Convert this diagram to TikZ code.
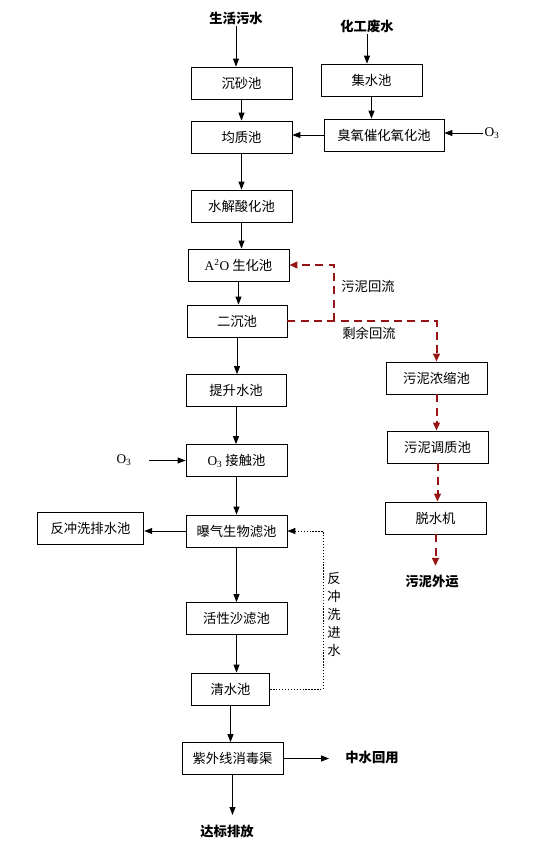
\documentclass[tikz,border=0pt]{standalone}
\usepackage{fontspec}
\setmainfont{Liberation Serif}
\newfontfamily\cjk{Noto Sans CJK SC}
\usetikzlibrary{arrows.meta}
\definecolor{sludgered}{RGB}{150,20,20}

\begin{document}
\begin{tikzpicture}[x=.75pt, y=-.75pt,
		box/.style={draw, line width=.6pt, minimum width=75.75pt, minimum height=24pt, inner sep=0pt, font=\cjk\fontsize{10}{12}\selectfont},
		lbl/.style={inner sep=1pt, font=\cjk\bfseries\fontsize{10}{12}\selectfont},
		txt/.style={inner sep=1pt, font=\cjk\fontsize{10}{12}\selectfont},
		flow/.style={line width=.7pt, -{Triangle[length=6pt,width=4.5pt]}},
		sludge/.style={draw=sludgered, line width=1.5pt, dash pattern=on 6pt off 4pt, -{Triangle[length=6pt,width=5pt]}},
		backwash/.style={flow, dash pattern=on 1pt off 1.2pt}]
				\useasboundingbox (0,0) rectangle (556,851);
				% main line
				\node[lbl] (shw) at (236,18) {生活污水};
				\node[lbl] (hg) at (367,26) {化工废水};
				\node[box] (ss) at (241.5,83) {沉砂池};
				\node[box] (jsc) at (371.5,80) {集水池};
				\node[box] (jz) at (241.5,137) {均质池};
				\node[box, minimum width=90pt] (cy) at (384,135) {臭氧催化氧化池};
				\node[txt] (o3r) at (492,133) {\rmfamily O\textsubscript{3}};
				\node[box] (sj) at (241.5,206) {水解酸化池};
				\node[box] (a2o) at (238.5,265) {{\rmfamily A\textsuperscript{2}O} 生化池};
				\node[box, minimum width=75pt] (ec) at (237,321) {二沉池};
				\node[box, minimum width=75pt] (tsc) at (236,390.5) {提升水池};
				\node[box] (o3jc) at (236.5,460.5) {{\rmfamily O\textsubscript{3}} 接触池};
				\node[txt] (o3l) at (124,460.5) {\rmfamily O\textsubscript{3}};
				\node[box] (pq) at (236.5,531) {曝气生物滤池};
				\node[box, minimum width=80pt] (fcp) at (90.5,528.5) {反冲洗排水池};
				\node[box] (hx) at (236.5,618.5) {活性沙滤池};
				\node[box, minimum width=59pt] (qs) at (230.5,689) {清水池};
				\node[box] (zw) at (232.5,758.5) {紫外线消毒渠};
				\node[lbl] (zs) at (372,757) {中水回用};
				\node[lbl] (db) at (227,831) {达标排放};
				% sludge line
				\node[box] (wn) at (436.5,378) {污泥浓缩池};
				\node[box] (tz) at (437.5,447) {污泥调质池};
				\node[box] (tsj) at (435.5,518) {脱水机};
				\node[lbl] (wy) at (432,582) {污泥外运};
				\node[txt] at (368,286) {污泥回流};
				\node[txt] at (369,333) {剩余回流};
				\node[txt, align=center, font=\cjk\fontsize{10}{13.5}\selectfont] at (334,614) {反\\冲\\洗\\进\\水};

				\draw[flow] (shw.south) -- (shw.south |- ss.north);
				\draw[flow] (hg.south) -- (hg.south |- jsc.north);
				\draw[flow] (jsc) -- (jsc |- cy.north);
				\draw[flow] (o3r.west) -- (o3r.west -| cy.east);
				\draw[flow] (cy.west) -- (cy.west -| jz.east);
				\draw[flow] (ss) -- (ss |- jz.north);
				\draw[flow] (jz) -- (jz |- sj.north);
				\draw[flow] (sj) -- (sj |- a2o.north);
				\draw[flow] (a2o) -- (a2o |- ec.north);
				\draw[flow] (ec) -- (ec |- tsc.north);
				\draw[flow] (tsc) -- (tsc |- o3jc.north);
				\draw[flow, shorten <=12pt] (o3l.east) -- (o3jc.west);
				\draw[flow] (o3jc) -- (o3jc |- pq.north);
				\draw[flow] (pq.west) -- (pq.west -| fcp.east);
				\draw[flow] (pq) -- (pq |- hx.north);
				\draw[flow] (hx) -- (hx |- qs.north);
				\draw[flow] (qs) -- (qs |- zw.north);
				\draw[flow, shorten >=11pt] (zw.east) -- (zw.east -| zs.west);
				\draw[flow, shorten >=6pt] (zw) -- (zw |- db.north);
				\coordinate (bw) at (323,600);
				\draw[backwash] (qs.east) -| (bw) |- (pq.east);
				% sludge
				\coordinate (rf) at (334,321);
				\draw[sludge] (ec.east) -| (wn.north);
				\draw[sludge] (rf) |- (a2o.east);
				\draw[sludge] (wn) -- (wn |- tz.north);
				\draw[sludge] (tz) -- (tz |- tsj.north);
				\draw[sludge, shorten >=6pt] (tsj) -- (tsj |- wy.north);
			\end{tikzpicture}
\end{document}
